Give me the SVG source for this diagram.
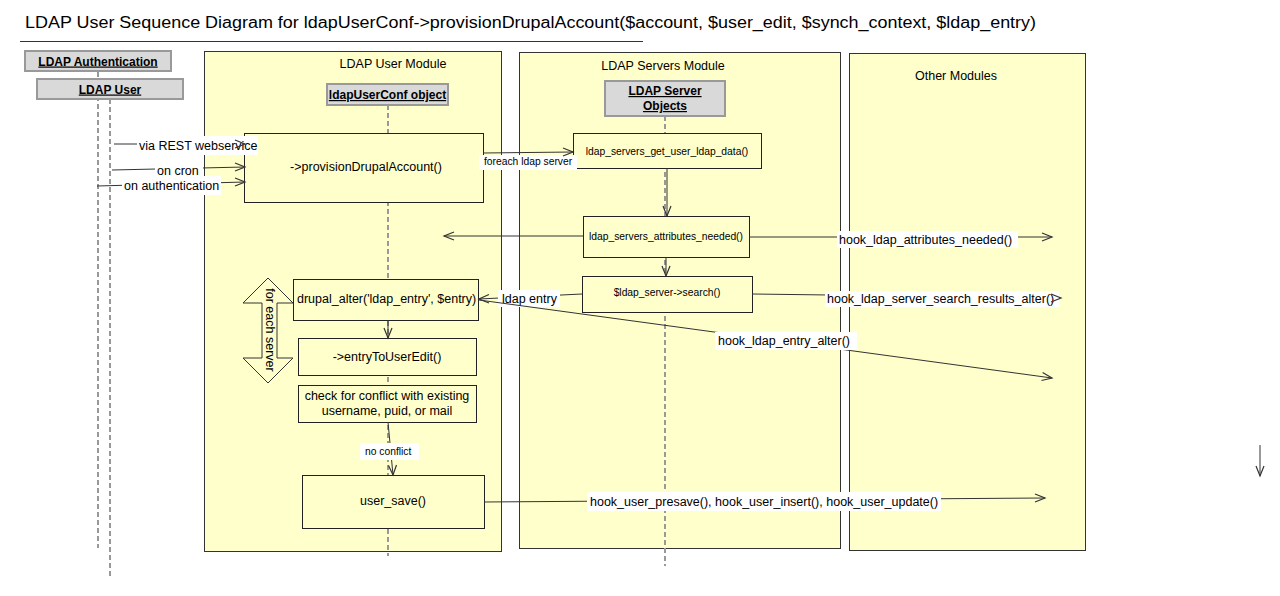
<svg xmlns="http://www.w3.org/2000/svg" width="1280" height="596" viewBox="0 0 1280 596">
<style>
text{font-family:"Liberation Sans",Arial,sans-serif;fill:#000}
.title{font-size:16px}
.mod{fill:#ffffcc;stroke:#333;stroke-width:1}
.box{fill:#ffffcc;stroke:#222;stroke-width:1}
.actor{fill:#d9d9d9;stroke:#999;stroke-width:2}
.atext{font-size:12px;font-weight:bold;text-decoration:underline;text-anchor:middle}
.life{stroke:#999;stroke-width:2;stroke-dasharray:5,3;fill:none}
.t12{font-size:12.5px}
.t10{font-size:10.3px}
.mid{text-anchor:middle}
.ln{stroke:#333;stroke-width:1;fill:none}
.ah{stroke:#333;stroke-width:1.2;fill:none}
.lbl{fill:#fff;stroke:none}
</style>
<rect width="1280" height="596" fill="#fff"/>
<text class="title" x="25" y="28" textLength="1011" lengthAdjust="spacingAndGlyphs">LDAP User Sequence Diagram for ldapUserConf-&gt;provisionDrupalAccount($account, $user_edit, $synch_context, $ldap_entry)</text>
<line x1="20" y1="41.5" x2="643" y2="41.5" stroke="#333" stroke-width="1"/>

<g id="mod-ldap-user">
<rect class="mod" x="204.5" y="51.5" width="297" height="500"/>
<text class="t12 mid" x="393" y="68">LDAP User Module</text>
</g>
<g id="mod-ldap-servers">
<rect class="mod" x="519.5" y="52.5" width="321" height="496"/>
<text class="t12 mid" x="663" y="70">LDAP Servers Module</text>
</g>
<g id="mod-other">
<rect class="mod" x="849.5" y="53.5" width="236" height="497"/>
<text class="t12 mid" x="956" y="80">Other Modules</text>
</g>

<g id="lifelines">
<line class="life" x1="98" y1="72" x2="98" y2="548"/>
<line class="life" x1="110" y1="99" x2="110" y2="576"/>
<line class="life" x1="388" y1="105" x2="388" y2="556"/>
<line class="life" x1="665" y1="116" x2="665" y2="566"/>
</g>

<g id="actor-ldap-auth">
<rect class="actor" x="25" y="51" width="146" height="20"/>
<text class="atext" x="98" y="65.5">LDAP Authentication</text>
</g>
<g id="actor-ldap-user">
<rect class="actor" x="37" y="79" width="146" height="20"/>
<text class="atext" x="110" y="93.5">LDAP User</text>
</g>
<g id="actor-ldapuserconf">
<rect class="actor" x="327" y="84" width="121" height="21"/>
<text class="atext" x="387.5" y="99">ldapUserConf object</text>
</g>
<g id="actor-ldap-server-objects">
<rect class="actor" x="605" y="81" width="120" height="35"/>
<text class="atext" x="665" y="95">LDAP Server </text>
<text class="atext" x="665" y="110">Objects</text>
</g>

<g id="n-provision">
<rect class="box" x="244.5" y="133.5" width="239" height="69"/>
<text class="t12 mid" x="366" y="171">-&gt;provisionDrupalAccount()</text>
</g>
<g id="n-get-user-data">
<rect class="box" x="573.5" y="133.5" width="188" height="35"/>
<text class="t10 mid" x="667" y="155">ldap_servers_get_user_ldap_data()</text>
</g>
<g id="n-attributes-needed">
<rect class="box" x="583.5" y="216.5" width="166" height="41"/>
<text class="t10 mid" x="666" y="240">ldap_servers_attributes_needed()</text>
</g>
<g id="n-search">
<rect class="box" x="582.5" y="276.5" width="170" height="36"/>
<text class="t10 mid" x="667" y="296">$ldap_server-&gt;search()</text>
</g>
<g id="n-drupal-alter">
<rect class="box" x="293.5" y="279.5" width="185" height="41"/>
<text class="t12" x="297" y="303">drupal_alter('ldap_entry', $entry)</text>
</g>
<g id="n-for-each-server">
<polygon points="268,278 293,303 277,303 277,358 293,358 268,383 243,358 262,358 262,303 243,303" fill="#ffffcc" stroke="#333" stroke-width="1"/>
<text class="t12 mid" transform="translate(266,330) rotate(90)">for each server</text>
</g>
<g id="n-entry-to-user-edit">
<rect class="box" x="298.5" y="338.5" width="178" height="37"/>
<text class="t12 mid" x="387" y="361">-&gt;entryToUserEdit()</text>
</g>
<g id="n-check-conflict">
<rect class="box" x="298.5" y="385.5" width="178" height="37"/>
<text class="t12 mid" x="387" y="400">check for conflict with existing</text>
<text class="t12 mid" x="387" y="415">username, puid, or mail</text>
</g>
<g id="n-user-save">
<rect class="box" x="302.5" y="475.5" width="182" height="53"/>
<text class="t12 mid" x="393" y="505">user_save()</text>
</g>

<g id="connectors">
<line class="ln" x1="114" y1="144" x2="245" y2="144"/>
<rect class="lbl" x="137" y="136" width="121" height="19"/>
<text class="t12" x="139" y="150">via REST webservice</text>
<polyline class="ah" points="235,140 245,144 235,148"/>
<line class="ln" x1="112" y1="170" x2="245" y2="167"/>
<rect class="lbl" x="155" y="162" width="48" height="17"/>
<text class="t12" x="157" y="175">on cron</text>
<polyline class="ah" points="235,163 245,167 235,171"/>
<line class="ln" x1="97" y1="186" x2="245" y2="182"/>
<rect class="lbl" x="122" y="176" width="99" height="19"/>
<text class="t12" x="124" y="190">on authentication</text>
<polyline class="ah" points="235,178 245,182 235,186"/>
<line class="ln" x1="483" y1="153" x2="573" y2="152"/>
<rect class="lbl" x="479" y="155" width="98" height="15"/>
<text class="t10" x="484" y="165">foreach ldap server</text>
<polyline class="ah" points="563,148 573,152 563,156"/>
<line class="ln" x1="667" y1="168" x2="667" y2="216"/>
<polyline class="ah" points="663,206 667,216 671,206"/>
<line class="ln" x1="583" y1="236" x2="444" y2="236"/>
<polyline class="ah" points="454,232 444,236 454,240"/>
<line class="ln" x1="749" y1="237" x2="1052" y2="237"/>
<rect class="lbl" x="837" y="231" width="181" height="17"/>
<text class="t12" x="839" y="244">hook_ldap_attributes_needed()</text>
<polyline class="ah" points="1042,233 1052,237 1042,241"/>
<line class="ln" x1="666" y1="257" x2="666" y2="276"/>
<polyline class="ah" points="662,266 666,276 670,266"/>
<line class="ln" x1="582" y1="294" x2="479" y2="299"/>
<rect class="lbl" x="498" y="290" width="62" height="17"/>
<text class="t12" x="502" y="303">ldap entry</text>
<polyline class="ah" points="489,294.5 479,299 489,303"/>
<line class="ln" x1="752" y1="294" x2="1060" y2="298"/>
<rect class="lbl" x="825" y="291" width="234" height="16"/>
<text class="t12" x="827" y="303">hook_ldap_server_search_results_alter()</text>
<polyline class="ah" points="1051,294 1061,298 1051,302"/>
<line class="ln" x1="479" y1="300" x2="1052" y2="378"/>
<rect class="lbl" x="715" y="332" width="142" height="18"/>
<text class="t12" x="718" y="345">hook_ldap_entry_alter()</text>
<polyline class="ah" points="1042.6,372.6 1052,378 1041.5,380.5"/>
<line class="ln" x1="388" y1="320" x2="388" y2="338"/>
<polyline class="ah" points="384,328 388,338 392,328"/>
<line class="ln" x1="388" y1="422" x2="393" y2="475"/>
<rect class="lbl" x="360" y="443" width="59" height="17"/>
<text class="t10" x="365" y="455">no conflict</text>
<polyline class="ah" points="388.5,465.5 393,475 396.5,465"/>
<line class="ln" x1="484" y1="502" x2="1045" y2="498"/>
<rect class="lbl" x="587" y="492" width="354" height="19"/>
<text class="t12" x="590" y="506">hook_user_presave(), hook_user_insert(), hook_user_update()</text>
<polyline class="ah" points="1035,494 1045,498 1035,502"/>
<line class="ln" x1="1260" y1="445" x2="1260" y2="476"/>
<polyline class="ah" points="1256,466 1260,476 1264,466"/>
</g>
</svg>
